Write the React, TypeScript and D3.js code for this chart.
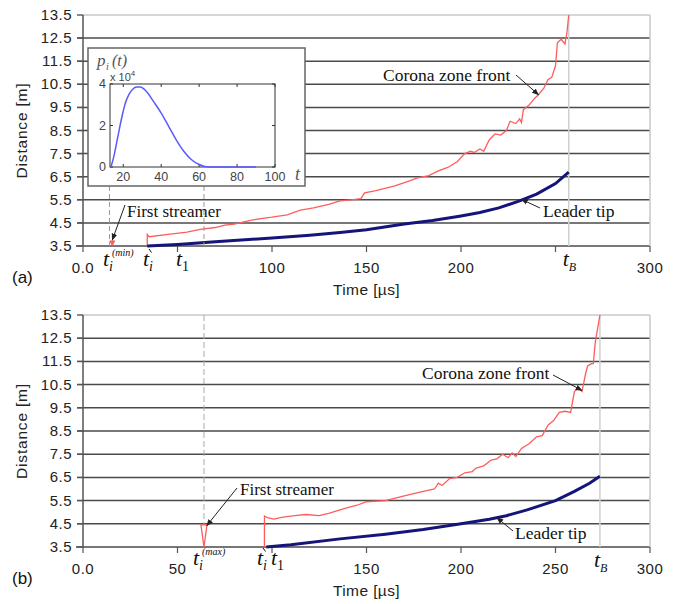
import React from "react"
import * as d3 from "d3"

// panel (a): corona zone front and leader tip, time in µs, distance in m
const coronaA_t = [34, 34, 35, 45, 55, 62, 70, 75, 80, 88, 95, 100, 108, 115, 122, 130, 136, 142, 147, 149, 155, 165, 172, 177, 183, 188, 193, 198, 202, 205, 207, 210, 212, 215, 218, 221, 224, 226, 229, 231, 232, 233, 236, 239, 241, 244, 246, 248, 250, 251, 253, 255, 256, 257]
const coronaA_d = [3.5, 4.0, 3.9, 4.0, 4.1, 4.22, 4.3, 4.4, 4.45, 4.6, 4.7, 4.75, 4.85, 5.05, 5.15, 5.3, 5.45, 5.5, 5.55, 5.8, 5.9, 6.1, 6.3, 6.45, 6.55, 6.75, 6.9, 7.15, 7.5, 7.6, 7.55, 7.7, 7.6, 8.1, 8.35, 8.3, 8.5, 8.9, 8.8, 9.0, 8.85, 9.4, 9.6, 9.9, 10.05, 10.35, 10.7, 10.8, 11.3, 12.3, 12.45, 12.25, 12.7, 13.5]
const leaderA_t = [34, 50, 70, 100, 120, 136, 150, 170, 185, 200, 210, 220, 231, 240, 250, 257]
const leaderA_d = [3.5, 3.57, 3.68, 3.85, 3.97, 4.08, 4.2, 4.45, 4.6, 4.8, 4.95, 5.15, 5.45, 5.75, 6.2, 6.7]

// panel (b)
const coronaB_t = [96, 96, 98, 101, 105, 112, 118, 125, 130, 136, 140, 145, 150, 160, 170, 180, 186, 188, 190, 194, 198, 202, 206, 208, 212, 216, 219, 222, 225, 227, 229, 232, 236, 240, 243, 246, 249, 252, 255, 258, 260, 262, 264, 266, 267, 269, 270, 271, 273.5]
const coronaB_d = [3.5, 4.83, 4.75, 4.7, 4.78, 4.85, 4.9, 4.85, 4.95, 5.1, 5.2, 5.3, 5.45, 5.5, 5.7, 5.9, 6.0, 6.25, 6.15, 6.45, 6.5, 6.7, 6.75, 6.9, 7.0, 7.25, 7.3, 7.5, 7.35, 7.55, 7.4, 7.75, 7.95, 8.25, 8.3, 8.75, 8.95, 9.3, 9.35, 9.3, 10.2, 10.35, 10.2, 11.0, 11.3, 11.4, 11.4, 12.3, 13.5]
const leaderB_t = [97, 110, 136, 160, 180, 200, 215, 224, 235, 250, 260, 268, 273.5]
const leaderB_d = [3.5, 3.6, 3.85, 4.05, 4.25, 4.5, 4.7, 4.85, 5.1, 5.5, 5.9, 6.25, 6.55]

// inset: p_i(t), units of 1e4
const inset_t = [13.5, 15, 17, 19, 21, 23, 25, 27, 29, 31, 33, 36, 40, 44, 48, 52, 56, 60, 63, 66, 75, 90]
const inset_p = [0, 0.5, 1.4, 2.3, 3.05, 3.5, 3.75, 3.85, 3.85, 3.75, 3.55, 3.15, 2.6, 1.95, 1.3, 0.75, 0.35, 0.12, 0.02, 0, 0, 0]
const insetTicksX = [20, 40, 60, 80, 100]
const insetTicksY = [0, 2, 4]

const gridD = [3.5, 4.5, 5.5, 6.5, 7.5, 8.5, 9.5, 10.5, 11.5, 12.5, 13.5]
const tickT = [0, 50, 100, 150, 200, 250, 300]
const labelsA = ["0.0", "", "100", "150", "200", "", "300"]
const labelsB = ["0.0", "50", "", "150", "200", "250", "300"]

const SANS = "'Liberation Sans', Arial, sans-serif"
const SERIF = "'Liberation Serif', 'DejaVu Serif', 'Times New Roman', serif"
const RED = "#ff5c5c"
const NAVY = "#14147a"
const serif = { fontFamily: SERIF }
const sans = { fontFamily: SANS }

const zip = (a: number[], b: number[]) => a.map((v, i) => [v, b[i]] as [number, number])

function TLabel({ x, y, sub, sup, accent }: { x: number; y: number; sub: string; sup?: string; accent?: boolean }) {
    return (
        <g style={serif} fill="#111">
            <text x={x} y={y} fontSize={22} fontStyle="italic">t</text>
            {accent && <line x1={x + 6} y1={y - 17} x2={x + 8.5} y2={y - 13.5} stroke="#111" strokeWidth={1} />}
            <text x={x + 6} y={y + 5} fontSize={sub === "B" ? 12 : 14}
                fontStyle={sub === "1" ? "normal" : "italic"}>{sub}</text>
            {sup && <text x={x + 9} y={y - 10} fontSize={10} fontStyle="italic">{sup}</text>}
        </g>
    )
}

function Panel(props: {
    top: number, bottom: number, corona: [number, number][], leader: [number, number][],
    labels: string[], tB: number, tag: string, children?: any
}) {
    const x = d3.scaleLinear().domain([0, 300]).range([83, 650])
    const y = d3.scaleLinear().domain([3.5, 13.5]).range([props.bottom, props.top])
    const line = d3.line<[number, number]>().x(d => x(d[0])).y(d => y(d[1]))
    const yb = props.bottom
    return (
        <g>
            {gridD.map((d, i) => (
                <g key={d}>
                    <line x1={i === 0 ? 76 : 77} x2={650} y1={y(d)} y2={y(d)}
                        stroke={i === gridD.length - 1 ? "#c8c8c8" : "#4a4a4a"} strokeWidth={1.5} />
                    <line x1={77} x2={83} y1={y(d)} y2={y(d)} stroke="#555" strokeWidth={1.2} />
                    <text x={72} y={y(d) + 5} textAnchor="end" style={sans} fontSize={15}
                        letterSpacing={0.5} fill="#222">{d.toFixed(1)}</text>
                </g>
            ))}
            <line x1={83} x2={83} y1={y(13.5)} y2={yb} stroke="#555" strokeWidth={1.5} />
            <line x1={650} x2={650} y1={y(13.5)} y2={yb} stroke="#c8c8c8" strokeWidth={1.5} />
            {tickT.map((t, i) => (
                <g key={t}>
                    <line x1={x(t)} x2={x(t)} y1={yb} y2={yb + 6} stroke="#555" strokeWidth={1.2} />
                    <text x={x(t)} y={yb + 27} textAnchor="middle" style={sans} fontSize={15}
                        letterSpacing={0.5} fill="#222">{props.labels[i]}</text>
                </g>
            ))}
            <line x1={x(props.tB)} x2={x(props.tB)} y1={y(13.5)} y2={yb} stroke="#cfcfcf" strokeWidth={1.5} />
            <text x={(83 + 650) / 2} y={yb + 49} textAnchor="middle" style={sans} fontSize={15.5}
                letterSpacing={0.4} fill="#222">Time [µs]</text>
            <text transform={`translate(27,${(props.top + yb) / 2}) rotate(-90)`} textAnchor="middle"
                style={sans} fontSize={15.5} letterSpacing={0.8} fill="#222">Distance [m]</text>
            <text x={12} y={yb + 37} style={sans} fontSize={17} fill="#111">{props.tag}</text>
            <path d={line(props.corona) ?? ""} fill="none" stroke={RED} strokeWidth={1.3} />
            <path d={line(props.leader) ?? ""} fill="none" stroke={NAVY} strokeWidth={3} />
            <TLabel x={x(props.tB) - 6} y={yb + 20} sub="B" />
            {props.children && props.children(x, y)}
        </g>
    )
}

function Arrow({ x1, y1, x2, y2 }: { x1: number; y1: number; x2: number; y2: number }) {
    return <line x1={x1} y1={y1} x2={x2} y2={y2} stroke="#222" strokeWidth={1} markerEnd="url(#arr)" />
}

function Inset() {
    const x = d3.scaleLinear().domain([13, 100]).range([110, 275])
    const y = d3.scaleLinear().domain([0, 4]).range([167, 84])
    const line = d3.line<[number, number]>().x(d => x(d[0])).y(d => y(d[1])).curve(d3.curveMonotoneX)
    return (
        <g>
            <rect x={88} y={48} width={217} height={138} fill="#fff" stroke="#666" strokeWidth={1.5} />
            <rect x={110} y={84} width={165} height={83} fill="none" stroke="#333" strokeWidth={1} />
            {insetTicksX.map(t => (
                <g key={t}>
                    <line x1={x(t)} x2={x(t)} y1={167} y2={164} stroke="#333" />
                    <line x1={x(t)} x2={x(t)} y1={84} y2={87} stroke="#333" />
                    <text x={x(t)} y={181} textAnchor="middle" style={sans} fontSize={12.5} fill="#444">{t}</text>
                </g>
            ))}
            {insetTicksY.map(p => (
                <g key={p}>
                    <line x1={110} x2={113} y1={y(p)} y2={y(p)} stroke="#333" />
                    <line x1={275} x2={272} y1={y(p)} y2={y(p)} stroke="#333" />
                    <text x={106} y={y(p) + 4} textAnchor="end" style={sans} fontSize={12.5} fill="#444">{p}</text>
                </g>
            ))}
            <text x={110} y={81} style={sans} fontSize={11} fill="#444">x 10<tspan dy={-5} fontSize={8}>4</tspan></text>
            <g style={serif} fontStyle="italic" fill="#555">
                <text x={97} y={66} fontSize={17}>p</text>
                <text x={106} y={70} fontSize={10}>i</text>
                <text x={112} y={66} fontSize={16}>(t)</text>
                <text x={295} y={180} fontSize={18}>t</text>
            </g>
            <path d={line(zip(inset_t, inset_p)) ?? ""} fill="none" stroke="#5a5aff" strokeWidth={1.5} />
        </g>
    )
}

export default function App() {
    return (
        <svg width={679} height={604} style={{ position: "absolute", left: 0, top: 0, background: "#fff" }}>
            <defs>
                <marker id="arr" viewBox="0 0 10 10" refX={9} refY={5} markerWidth={7} markerHeight={7} orient="auto">
                    <path d="M0,1 L10,5 L0,9 z" fill="#222" />
                </marker>
            </defs>
            <Panel top={15} bottom={246} corona={zip(coronaA_t, coronaA_d)} leader={zip(leaderA_t, leaderA_d)}
                labels={labelsA} tB={257} tag="(a)">
                {(x: any, y: any) => (
                    <g>
                        <line x1={x(14)} x2={x(14)} y1={186} y2={y(3.5)} stroke="#999" strokeDasharray="5,3" />
                        <line x1={x(64)} x2={x(64)} y1={186} y2={y(3.5)} stroke="#999" strokeDasharray="5,3" />
                        <path d={`M${x(14.2)},${y(3.72)} L${x(16.8)},${y(3.72)} L${x(15.5)},${y(3.52)} Z`}
                            fill={RED} stroke={RED} />
                        <text x={127} y={217} style={serif} fontSize={17} fill="#111">First streamer</text>
                        <Arrow x1={125} y1={205} x2={x(15.5)} y2={y(3.76)} />
                        <text x={383} y={81} style={serif} fontSize={17.5} fill="#111">Corona zone front</text>
                        <Arrow x1={516} y1={75} x2={x(241)} y2={y(10.05)} />
                        <text x={543} y={217} style={serif} fontSize={17.5} fill="#111">Leader tip</text>
                        <Arrow x1={540} y1={208} x2={x(232)} y2={y(5.52)} />
                        <TLabel x={103} y={266} sub="i" sup="(min)" />
                        <TLabel x={143} y={266} sub="i" accent />
                        <TLabel x={176} y={266} sub="1" />
                    </g>
                )}
            </Panel>
            <Inset />
            <Panel top={315} bottom={547} corona={zip(coronaB_t, coronaB_d)} leader={zip(leaderB_t, leaderB_d)}
                labels={labelsB} tB={273.5} tag="(b)">
                {(x: any, y: any) => (
                    <g>
                        <line x1={x(64)} x2={x(64)} y1={y(13.5)} y2={y(4.45)} stroke="#aaa" strokeDasharray="6,3" />
                        <path d={`M${x(62.4)},${y(4.45)} L${x(65.6)},${y(4.45)} L${x(64)},${y(3.5)} Z`}
                            fill="#fff" stroke={RED} strokeWidth={1.3} />
                        <text x={240} y={495} style={serif} fontSize={17} fill="#111">First streamer</text>
                        <Arrow x1={237} y1={488} x2={x(65.5)} y2={y(4.42)} />
                        <text x={422} y={379} style={serif} fontSize={17.5} fill="#111">Corona zone front</text>
                        <Arrow x1={553} y1={375} x2={x(264)} y2={y(10.25)} />
                        <text x={515} y={539} style={serif} fontSize={17.5} fill="#111">Leader tip</text>
                        <Arrow x1={513} y1={531} x2={x(219)} y2={y(4.76)} />
                        <TLabel x={193} y={565} sub="i" sup="(max)" />
                        <TLabel x={257} y={565} sub="i" accent />
                        <TLabel x={271} y={565} sub="1" />
                    </g>
                )}
            </Panel>
        </svg>
    )
}
